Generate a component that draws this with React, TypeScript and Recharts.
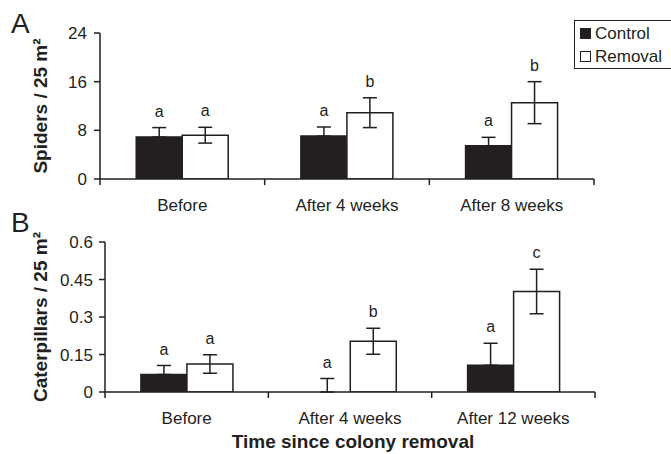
import React from 'react';
import { BarChart, Bar, XAxis, YAxis, ErrorBar, LabelList, Legend } from 'recharts';

const INK = '#231f20';
const FONT = '"Liberation Sans", Arial, Helvetica, sans-serif';

// Panel A: spiders
const spiderCategories = ['Before', 'After 4 weeks', 'After 8 weeks'];
const spiderControl = [6.9, 7.05, 5.45];
const spiderControlErr = [1.55, 1.5, 1.4];
const spiderRemoval = [7.2, 10.9, 12.55];
const spiderRemovalErr = [1.3, 2.45, 3.45];
const spiderControlLetters = ['a', 'a', 'a'];
const spiderRemovalLetters = ['a', 'b', 'b'];
const spiderTicks = [0, 8, 16, 24];

// Panel B: caterpillars
const caterpillarCategories = ['Before', 'After 4 weeks', 'After 12 weeks'];
const caterpillarControl = [0.07, 0, 0.107];
const caterpillarControlErr = [0.036, 0.054, 0.088];
const caterpillarRemoval = [0.112, 0.203, 0.402];
const caterpillarRemovalErr = [0.037, 0.052, 0.089];
const caterpillarControlLetters = ['a', 'a', 'a'];
const caterpillarRemovalLetters = ['a', 'b', 'c'];
const caterpillarTicks = [0, 0.15, 0.3, 0.45, 0.6];

const boundaryTicks = [0, 0.5, 1, 1.5, 2, 2.5, 3];

function buildRows(
  categories: string[],
  control: number[],
  controlErr: number[],
  removal: number[],
  removalErr: number[],
  controlLetters: string[],
  removalLetters: string[],
) {
  return categories.map((name, i) => ({
    name,
    pos: i + 0.5,
    control: control[i],
    controlCap: controlErr[i],
    // error drawn on the stacked cap segment: from its top down to the bar value
    controlErrDown: [controlErr[i], 0],
    controlLetter: controlLetters[i],
    removal: removal[i],
    removalErr: removalErr[i],
    removalCap: removalErr[i],
    removalLetter: removalLetters[i],
  }));
}

const spiderRows = buildRows(
  spiderCategories, spiderControl, spiderControlErr, spiderRemoval, spiderRemovalErr,
  spiderControlLetters, spiderRemovalLetters,
);
const caterpillarRows = buildRows(
  caterpillarCategories, caterpillarControl, caterpillarControlErr, caterpillarRemoval,
  caterpillarRemovalErr, caterpillarControlLetters, caterpillarRemovalLetters,
);

const makeBoundaryTick = (categories: string[]) => (props: any) => {
  const { x, y, payload } = props;
  const v = payload.value as number;
  if (Math.abs(v - Math.round(v)) < 1e-6) {
    return <line x1={x} x2={x} y1={y} y2={y + 6} stroke={INK} strokeWidth={1.5} />;
  }
  return (
    <text x={x} y={y + 32} textAnchor="middle" fontSize={17} fill={INK} fontFamily={FONT}>
      {categories[Math.floor(v)]}
    </text>
  );
};

const LetterLabel = (props: any) => {
  const vb = props.viewBox || {};
  const x = props.x ?? vb.x;
  const y = props.y ?? vb.y;
  const width = props.width ?? vb.width;
  if (x == null || y == null) return null;
  return (
    <text x={x + width / 2} y={y - 11} textAnchor="middle" fontSize={16} fill={INK} fontFamily={FONT}>
      {props.value}
    </text>
  );
};

const LegendBox = (props: any) => {
  const items = (props.payload || []).filter((p: any) => p.type !== 'none');
  return (
    <div
      style={{
        borderTop: `1.5px solid ${INK}`,
        borderLeft: `1.5px solid ${INK}`,
        borderBottom: `1.5px solid ${INK}`,
        borderRight: 'none',
        boxSizing: 'border-box',
        width: 120,
        minWidth: 120,
        height: 49,
        paddingTop: 1,
        paddingLeft: 5,
        background: '#fff',
        fontFamily: FONT,
        fontSize: 17,
        color: INK,
        whiteSpace: 'nowrap',
      }}
    >
      {items.map((p: any) => (
        <div key={p.value} style={{ display: 'flex', alignItems: 'center', height: 23 }}>
          <span
            style={{
              display: 'inline-block',
              width: 11,
              height: 11,
              flexShrink: 0,
              boxSizing: 'border-box',
              background: p.value === 'Control' ? INK : '#fff',
              border: `1.5px solid ${INK}`,
              marginRight: 4,
            }}
          />
          {p.value}
        </div>
      ))}
    </div>
  );
};

type PanelProps = {
  rows: any[];
  categories: string[];
  ticks: number[];
  yMax: number;
  yWidth: number;
  height: number;
  margin: { top: number; right: number; left: number; bottom: number };
  yLabel: string;
  yLabelDx: number;
  tickMargin: number;
  showLegend?: boolean;
  xTitle?: string;
};

function Panel(p: PanelProps) {
  return (
    <BarChart
      width={671}
      height={p.height}
      data={p.rows}
      margin={p.margin}
      barCategoryGap="22%"
      barGap={0}
    >
      <XAxis
        xAxisId="num"
        dataKey="pos"
        type="number"
        domain={[0, 3]}
        ticks={boundaryTicks}
        interval={0}
        height={30}
        tickSize={0}
        tickMargin={0}
        tickLine={false}
        axisLine={{ stroke: INK, strokeWidth: 1.5 }}
        tick={makeBoundaryTick(p.categories)}
        allowDataOverflow
        label={
          p.xTitle
            ? {
                value: p.xTitle,
                position: 'bottom',
                offset: 13,
                dx: 3,
                fontSize: 19,
                fontWeight: 700,
                fill: INK,
                fontFamily: FONT,
              }
            : undefined
        }
      />
      <XAxis xAxisId="cat" dataKey="name" type="category" hide height={0} />
      <YAxis
        width={p.yWidth}
        domain={[0, p.yMax]}
        ticks={p.ticks}
        interval={0}
        tickSize={6}
        tickMargin={p.tickMargin}
        axisLine={{ stroke: INK, strokeWidth: 1.5 }}
        tickLine={{ stroke: INK, strokeWidth: 1.5 }}
        tick={{ fontSize: 17, fill: INK, fontFamily: FONT }}
        allowDataOverflow
        label={{
          value: p.yLabel,
          angle: -90,
          position: 'center',
          dx: p.yLabelDx,
          fontSize: 19,
          fontWeight: 700,
          fill: INK,
          fontFamily: FONT,
        }}
      />
      {p.showLegend && (
        <Legend
          layout="horizontal"
          verticalAlign="middle"
          align="center"
          content={<LegendBox />}
          wrapperStyle={{ left: 574, top: 20, width: 120, height: 49 }}
        />
      )}
      <Bar
        xAxisId="cat"
        dataKey="control"
        name="Control"
        stackId="c"
        fill={INK}
        stroke={INK}
        strokeWidth={1.5}
        isAnimationActive={false}
      />
      <Bar
        xAxisId="cat"
        dataKey="controlCap"
        stackId="c"
        fill="transparent"
        stroke="none"
        legendType="none"
        isAnimationActive={false}
      >
        <ErrorBar dataKey="controlErrDown" width={7} stroke={INK} strokeWidth={1.5} direction="y" />
        <LabelList dataKey="controlLetter" content={<LetterLabel />} />
      </Bar>
      <Bar
        xAxisId="cat"
        dataKey="removal"
        name="Removal"
        stackId="r"
        fill="#ffffff"
        stroke={INK}
        strokeWidth={1.5}
        isAnimationActive={false}
      >
        <ErrorBar dataKey="removalErr" width={7} stroke={INK} strokeWidth={1.5} direction="y" />
      </Bar>
      <Bar
        xAxisId="cat"
        dataKey="removalCap"
        stackId="r"
        fill="transparent"
        stroke="none"
        legendType="none"
        isAnimationActive={false}
      >
        <LabelList dataKey="removalLetter" content={<LetterLabel />} />
      </Bar>
    </BarChart>
  );
}

export default function App() {
  return (
    <div
      style={{
        position: 'absolute',
        left: 0,
        top: 0,
        width: 671,
        height: 454,
        overflow: 'hidden',
        background: '#fff',
        fontFamily: FONT,
      }}
    >
      <div style={{ position: 'absolute', left: 0, top: 0 }}>
        <Panel
          rows={spiderRows}
          categories={spiderCategories}
          ticks={spiderTicks}
          yMax={24}
          yWidth={100}
          height={230}
          margin={{ top: 33, right: 77, left: 0, bottom: 21 }}
          yLabel="Spiders / 25 m²"
          yLabelDx={-10}
          tickMargin={7}
          showLegend
        />
      </div>
      <div style={{ position: 'absolute', left: 0, top: 230 }}>
        <Panel
          rows={caterpillarRows}
          categories={caterpillarCategories}
          ticks={caterpillarTicks}
          yMax={0.6}
          yWidth={105}
          height={224}
          margin={{ top: 12, right: 76, left: 0, bottom: 32 }}
          yLabel="Caterpillars / 25 m²"
          yLabelDx={-12.5}
          tickMargin={6}
          xTitle="Time since colony removal"
        />
      </div>
      <svg
        width={671}
        height={454}
        style={{ position: 'absolute', left: 0, top: 0, pointerEvents: 'none' }}
      >
        <text x={11} y={33} fontSize={28} fill={INK} fontFamily={FONT}>A</text>
        <text x={11} y={232} fontSize={28} fill={INK} fontFamily={FONT}>B</text>
      </svg>
    </div>
  );
}
